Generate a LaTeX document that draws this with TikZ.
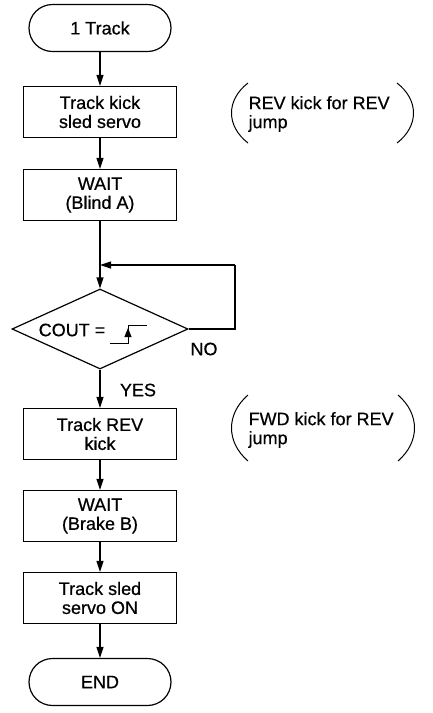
\documentclass[tikz,border=0pt]{standalone}
\usepackage{fontspec}
\setmainfont[FakeBold=0.6,AutoFakeBold=0.6]{Liberation Sans}
\usetikzlibrary{shapes.geometric,arrows.meta}

\begin{document}
\begin{tikzpicture}[x=1pt, y=-1pt, line width=1.2pt,
	font=\fontsize{18}{19}\selectfont\bfseries,
	box/.style={draw, minimum width=153pt, minimum height=51pt, align=center, inner sep=2pt},
	term/.style={draw, rounded corners=23.5pt, minimum width=142pt, minimum height=47pt},
	flow/.style={-{Triangle[length=11pt,width=7pt]}}]

\useasboundingbox (0,0) rectangle (433,713);
\def\x{100}

\node[term] (start) at (\x, 28) {1 Track};
\node[box] (kick) at (\x, 112) {Track kick\\sled servo};
\node[box] (blind) at (\x, 195) {WAIT\\(Blind A)};
\node[draw, diamond, aspect=2.2, minimum width=176pt, minimum height=80pt, inner sep=0pt] (cout) at (\x, 329) {};
\node[box] (revkick) at (\x, 434) {Track REV\\kick};
\node[box] (brake) at (\x, 516) {WAIT\\(Brake B)};
\node[box] (servo) at (\x, 598) {Track sled\\servo ON};
\node[term] (end) at (\x, 682) {END};

\draw[flow] (start) -- (kick);
\draw[flow] (kick) -- (blind);
\draw[flow] (blind) -- (cout);
\draw[flow] (cout) -- (revkick);
\draw[flow] (revkick) -- (brake);
\draw[flow] (brake) -- (servo);
\draw[flow] (servo) -- (end);

\coordinate (back) at (235, 265);
\coordinate (join) at (\x, 265);
\draw (cout.east) -| (back);
\draw[flow] (back) -- (join);

\node[inner sep=0pt] (eq) at (72, 330) {COUT =};
\draw[line width=1pt] (110, 343) -- (128, 343) -- (128, 325) -- (147, 325);
\draw[line width=1pt, -{Triangle[length=9pt,width=7pt]}] (128, 343) -- (128, 328);

\node[inner sep=0pt] (no) at (204, 349) {NO};
\node[inner sep=0pt] (yes) at (138, 390) {YES};

\node[anchor=west, align=left, inner sep=0pt] (note1) at (248, 114) {REV kick for REV\\jump};
\draw[line width=1pt] (248, 83) .. controls (226, 100) and (226, 126) .. (248, 143);
\draw[line width=1pt] (397, 83) .. controls (419, 100) and (419, 126) .. (397, 143);

\node[anchor=west, align=left, inner sep=0pt] (note2) at (248, 430) {FWD kick for REV\\jump};
\draw[line width=1pt] (248, 395) .. controls (226, 414) and (226, 442) .. (248, 461);
\draw[line width=1pt] (398, 395) .. controls (420, 414) and (420, 442) .. (398, 461);

\end{tikzpicture}
\end{document}
